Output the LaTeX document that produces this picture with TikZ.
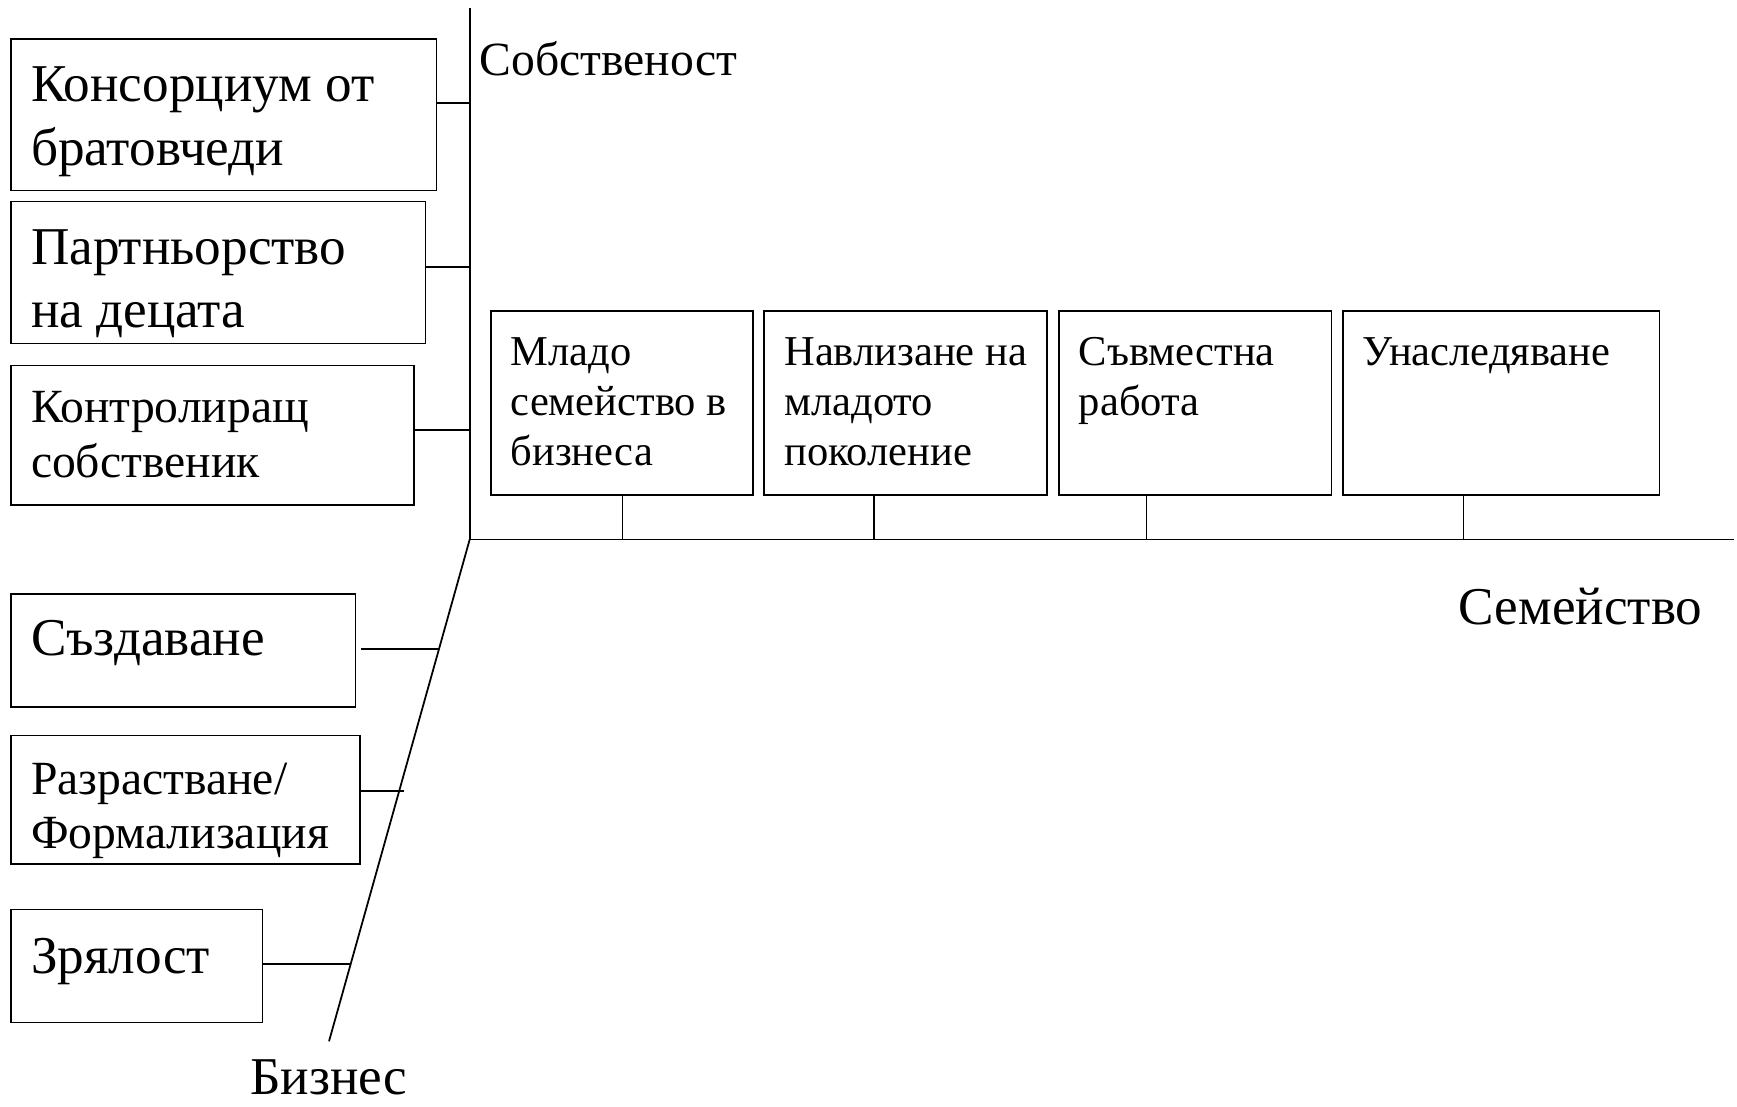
\documentclass[tikz,border=0pt]{standalone}
\usepackage{fontspec}
\setmainfont{Liberation Serif}
\usepackage{tikz}
\usetikzlibrary{positioning,calc}

\newcommand{\bigfont}{\fontsize{24}{28.5}\selectfont}
\newcommand{\midfont}{\fontsize{21.5}{25}\selectfont}
\newcommand{\smallfont}{\fontsize{19.2}{22.5}\selectfont}
% box text: width, height, first baseline, text
\newcommand{\boxtext}[4]{\parbox[t][#2][t]{#1}{\raggedright\leftskip=9pt\rule{0pt}{#3}#4}}

\begin{document}
\begin{tikzpicture}[
		x = 0.5pt, y = -0.5pt, % pixel grid, y goes down
		line width = 0.8pt
	]
	
	\tikzstyle{stage}=[
	draw = black,
	anchor = north west,
	inner sep = 0pt,
	outer sep = 0pt
	]
	\tikzstyle{axislabel}=[
	anchor = base west,
	inner sep = 0pt
	]
	
	\useasboundingbox (0,0) rectangle (1568,999);
	
	% axes
	\coordinate (o) at (424,487);
	\coordinate (own) at (424,7);
	\coordinate (fam) at (1565,487);
	\coordinate (bus) at (297,940);
	\draw (own) -- (o) -- (fam);
	\draw (o) -- (bus);
	
	\node[axislabel] (ownlbl) at (432,68) {\fontsize{21.5}{26}\selectfont Собственост};
	\node[axislabel] (famlbl) at (1316,564) {\bigfont Семейство};
	\node[axislabel] (buslbl) at (225,988) {\bigfont Бизнес};
	
	% ownership
	\node[stage] (kons) at (10,35) {\boxtext{192pt}{68.5pt}{28.5pt}{\bigfont Консорциум от\\братовчеди}};
	\node[stage] (partn) at (10,182) {\boxtext{187pt}{64pt}{28.3pt}{\bigfont Партньорство\\на децата}};
	\node[stage] (kontr) at (10,330) {\boxtext{182pt}{63pt}{25.7pt}{\midfont Контролиращ\\собственик}};
	
	\coordinate (s1) at (424,93);
	\coordinate (s2) at (424,241);
	\coordinate (s3) at (424,388);
	\draw (s1 -| kons.east) -- (s1);
	\draw (s2 -| partn.east) -- (s2);
	\draw (s3 -| kontr.east) -- (s3);
	
	% family
	\node[stage] (mlado) at (443,281) {\boxtext{118.5pt}{83pt}{24.5pt}{\smallfont Младо\\семейство в\\бизнеса}};
	\node[stage, right = 5pt of mlado] (navl) {\boxtext{127.5pt}{83pt}{24.5pt}{\smallfont Навлизане на\\младото\\поколение}};
	\node[stage, right = 5.5pt of navl] (savm) {\boxtext{123pt}{83pt}{24.5pt}{\smallfont Съвместна\\работа}};
	\node[stage, right = 5pt of savm] (unasl) {\boxtext{143pt}{83pt}{24.5pt}{\smallfont Унаследяване}};
	
	\coordinate (f1) at (562,487);
	\coordinate (f2) at (789,487);
	\coordinate (f3) at (1035,487);
	\coordinate (f4) at (1321,487);
	\draw (f1) -- (f1 |- mlado.south);
	\draw (f2) -- (f2 |- navl.south);
	\draw (f3) -- (f3 |- savm.south);
	\draw (f4) -- (f4 |- unasl.south);
	
	% business
	\node[stage] (sazd) at (10,536) {\boxtext{155.5pt}{51pt}{28pt}{\bigfont Създаване}};
	\node[stage] (razr) at (10,664) {\boxtext{157.5pt}{58pt}{26.4pt}{\fontsize{21.5}{24.5}\selectfont Разрастване/\\Формализация}};
	\node[stage] (zryal) at (10,821) {\boxtext{113.5pt}{51pt}{29pt}{\bigfont Зрялост}};
	
	\coordinate (b1) at ($(o)!0.2185!(bus)$);
	\coordinate (b2) at ($(o)!0.501!(bus)$);
	\coordinate (b3) at ($(o)!0.8455!(bus)$);
	\draw ($(sazd.east |- b1)+(5,0)$) -- (b1);
	\draw (razr.east |- b2) -- ($(b2)+(4.5,0)$);
	\draw (zryal.east |- b3) -- (b3);
\end{tikzpicture}
\end{document}
